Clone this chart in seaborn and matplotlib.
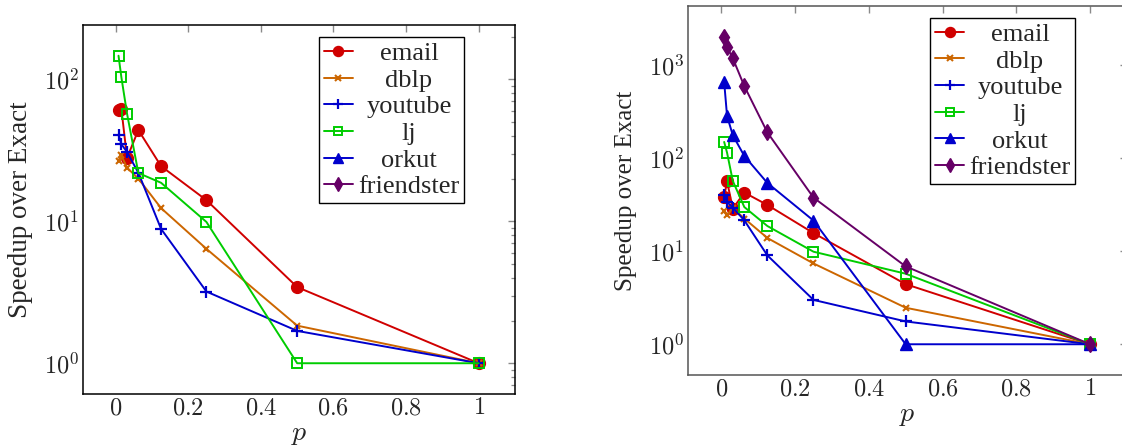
import numpy as np
import pandas as pd
import matplotlib
matplotlib.use("Agg")
import matplotlib.pyplot as plt
import seaborn as sns
from matplotlib.lines import Line2D
from matplotlib.ticker import FixedLocator, LogLocator, FuncFormatter, NullFormatter

# ---------------- data ----------------
p_values = [1/128, 1/64, 1/32, 1/16, 1/8, 1/4, 1/2, 1]
series_names = ["email", "dblp", "youtube", "lj", "orkut", "friendster"]

left_email = [61, 62.4, 28, 44, 24.5, 14.1, 3.44, 1]
left_dblp = [26.6, 29.2, 23.9, 20, 12.4, 6.4, 1.84, 1]
left_youtube = [40.8, 35, 30.8, 22, 8.85, 3.2, 1.69, 1]
left_lj = [147, 104, 57.5, 21.9, 18.7, 9.9, 1.0, 1]

right_email = [38.4, 56.6, 28.8, 42.8, 31.5, 15.7, 4.43, 1]
right_dblp = [26.9, 24.5, 29.2, 22.5, 13.9, 7.4, 2.47, 1]
right_youtube = [40.7, 33.9, 29.5, 21.5, 9.03, 3.0, 1.76, 1]
right_lj = [150, 115, 57, 29.9, 18.7, 9.9, 5.74, 1]
right_orkut = [661, 286, 177, 106, 54.3, 21.4, 1.0, 1]
right_friendster = [2033, 1563, 1190, 598, 190, 37.8, 6.88, 1]

x_tick_values = [0, 0.2, 0.4, 0.6, 0.8, 1]
x_tick_labels = ["0", "0.2", "0.4", "0.6", "0.8", "1"]
y_label = "Speedup over Exact"
x_label = "p"

left_data = {"email": left_email, "dblp": left_dblp,
             "youtube": left_youtube, "lj": left_lj}
right_data = {"email": right_email, "dblp": right_dblp,
              "youtube": right_youtube, "lj": right_lj,
              "orkut": right_orkut, "friendster": right_friendster}

# ---------------- style ----------------
sns.set_style("white")
plt.rcParams["font.family"] = ["Liberation Serif", "DejaVu Serif"]
plt.rcParams["mathtext.fontset"] = "cm"

styles = {
    "email": dict(color="#D00000", marker="o", markersize=8.5, mfc="#D00000", mew=1.0),
    "dblp": dict(color="#CC6600", marker="x", markersize=5, mfc="#CC6600", mew=1.5),
    "youtube": dict(color="#0000CC", marker="+", markersize=8, mfc="#0000CC", mew=1.6),
    "lj": dict(color="#00CC00", marker="s", markersize=7.5, mfc="none", mew=1.4),
    "orkut": dict(color="#0000CC", marker="^", markersize=8.5, mfc="#0000CC", mew=1.0),
    "friendster": dict(color="#660066", marker="d", markersize=8.5, mfc="#660066", mew=1.0),
}

fig = plt.figure(figsize=(11.22, 4.46), dpi=100)
ax_l = fig.add_axes([83 / 1122, 52 / 446, 432 / 1122, 369 / 446])
ax_r = fig.add_axes([688.1 / 1122, 71 / 446, 438.8 / 1122, 369 / 446])


def draw(ax, data, ylim, spine_color, ylabel_size, ylabel_x, legend_anchor):
    for name in series_names:
        if name not in data:
            continue
        st = styles[name]
        df = pd.DataFrame({"p": p_values, "speedup": data[name]})
        sns.lineplot(data=df, x="p", y="speedup", ax=ax, color=st["color"],
                     marker=st["marker"], markersize=st["markersize"],
                     markerfacecolor=st["mfc"], markeredgecolor=st["color"],
                     markeredgewidth=st["mew"], linewidth=1.4,
                     legend=False, sort=False, errorbar=None)
    ax.set_yscale("log")
    ax.set_xlim(-0.09, 1.1)
    ax.set_ylim(*ylim)
    ax.xaxis.set_major_locator(FixedLocator(x_tick_values))
    ax.set_xticklabels(["$" + t + "$" for t in x_tick_labels])
    ax.yaxis.set_major_locator(LogLocator(base=10, numticks=10))
    ax.yaxis.set_minor_locator(LogLocator(base=10, subs=np.arange(2, 10), numticks=20))
    ax.yaxis.set_minor_formatter(NullFormatter())
    ax.yaxis.set_major_formatter(FuncFormatter(
        lambda v, _: r"$10^{%d}$" % int(round(np.log10(v)))))
    ax.tick_params(axis="both", which="both", direction="in", top=True,
                   right=True, color="#8a8a8a", labelsize=17.5, pad=3)
    ax.tick_params(axis="both", which="major", length=5, width=1.0)
    ax.tick_params(axis="both", which="minor", length=3, width=0.9)
    for s in ax.spines.values():
        s.set_color(spine_color)
        s.set_linewidth(1.1)
    ax.set_ylabel(y_label, fontsize=ylabel_size)
    ax.yaxis.set_label_coords(ylabel_x, 0.5)
    ax.set_xlabel("$" + x_label + "$", fontsize=20, labelpad=2)
    ax.grid(False)

    handles = []
    for name in series_names:
        st = styles[name]
        handles.append(Line2D([], [], color=st["color"], marker=st["marker"],
                              markersize=st["markersize"] * 0.85,
                              markerfacecolor=st["mfc"],
                              markeredgecolor=st["color"],
                              markeredgewidth=st["mew"], linewidth=1.4))
    leg = ax.legend(handles, series_names, loc="upper right",
                    bbox_to_anchor=legend_anchor, borderaxespad=0,
                    fontsize=19, frameon=True, fancybox=False,
                    edgecolor="black", framealpha=1, handlelength=1.1,
                    handletextpad=0.2, labelspacing=0.12, borderpad=0.18)
    leg.get_frame().set_linewidth(1.0)
    return leg


leg_l = draw(ax_l, left_data, (0.607, 242), "black", 19.5, -0.1157, (0.8826, 0.9675))
leg_r = draw(ax_r, right_data, (0.467, 4350), "#555555", 18, -0.1165, (0.8824, 0.968))

# centre legend texts within their column (as in the original)
fig.canvas.draw()
renderer = fig.canvas.get_renderer()
for leg in (leg_l, leg_r):
    texts = leg.get_texts()
    widths = [t.get_window_extent(renderer).width for t in texts]
    wmax = max(widths)
    for t, w in zip(texts, widths):
        t.set_position(((wmax - w) / 2, 0))

fig.savefig("out.png", dpi=100)
